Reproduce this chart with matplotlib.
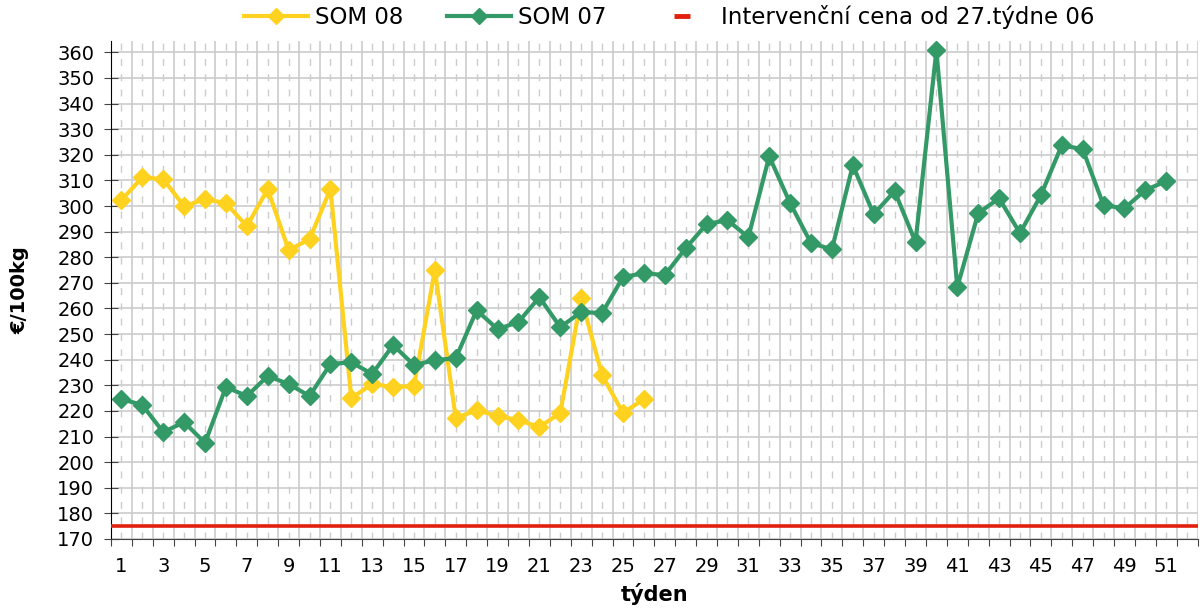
import numpy as np
import matplotlib
matplotlib.use('Agg')
import matplotlib.pyplot as plt
from matplotlib.lines import Line2D

plt.rcParams['font.family'] = ['DejaVu Sans']

weeks_08 = list(range(1, 27))
som_08 = [302.3, 311.2, 310.5, 299.9, 302.7, 301.1, 292.1, 306.6, 282.8, 287.0,
          306.6, 225.0, 230.5, 229.3, 229.7, 275.0, 217.2, 220.3, 218.0, 216.4,
          213.7, 219.2, 264.0, 234.0, 219.2, 224.6]

weeks_07 = list(range(1, 52))
som_07 = [224.6, 222.3, 211.7, 215.6, 207.5, 229.3, 225.8, 233.6, 230.5, 225.8,
          238.3, 239.0, 234.4, 245.7, 237.9, 239.8, 240.6, 259.3, 251.9, 254.7,
          264.4, 252.7, 258.6, 258.2, 272.2, 273.8, 273.0, 283.5, 292.9, 294.5,
          287.8, 319.4, 301.1, 285.5, 283.1, 315.9, 296.8, 305.8, 285.9, 360.8,
          268.3, 297.2, 303.0, 289.4, 304.2, 323.7, 322.2, 300.3, 299.1, 306.2,
          309.7]

intervention = 175
all_weeks = list(range(1, 53))
x_labels = [str(w) if w % 2 == 1 else '' for w in all_weeks]
y_ticks = list(range(170, 361, 10))

yellow = '#FFD21F'
green = '#339966'
red = '#E2200E'

fig = plt.figure(figsize=(12, 6.09), dpi=100)
ax = fig.add_axes([0.0925, 0.115, 0.9055, 0.818])

ax.axhline(intervention, color=red, lw=2.6, zorder=3)
ax.plot(weeks_08, som_08, color=yellow, lw=3, marker='D', ms=9.5, zorder=4)
ax.plot(weeks_07, som_07, color=green, lw=3, marker='D', ms=9.5, zorder=5)

ax.set_xlim(0.5, 52.5)
ax.set_ylim(170, 364.5)

# category boundaries: solid grid + tick marks, centers: dashed grid + labels
ax.set_xticks(np.arange(0.5, 53, 1))
ax.set_xticklabels([])
ax.set_xticks(all_weeks, minor=True)
ax.set_xticklabels(x_labels, minor=True, fontsize=14)
ax.tick_params(axis='x', which='major', direction='out', length=5, color='#444444')
ax.tick_params(axis='x', which='minor', length=0, pad=13)
ax.set_yticks(y_ticks)
ax.tick_params(axis='y', direction='inout', length=10, labelsize=14, color='#444444', pad=7)

ax.grid(which='major', axis='both', color='#cccccc', lw=1.2)
ax.grid(which='minor', axis='x', color='#cccccc', lw=1, ls=(0, (5, 6)))
ax.set_axisbelow(True)

for s in ['top', 'right']:
    ax.spines[s].set_visible(False)
ax.spines['left'].set_color('black')
ax.spines['bottom'].set_color('#444444')

ax.set_ylabel('€/100kg', fontsize=14, fontweight='bold', labelpad=20)
ax.set_xlabel('týden', fontsize=15, fontweight='bold', labelpad=5)

handles = [
    Line2D([], [], color=yellow, lw=3, marker='D', ms=8),
    Line2D([], [], color=green, lw=3, marker='D', ms=8),
    Line2D([], [], color=red, lw=0, marker='_', ms=11, mew=3.5),
]
fig.legend(handles, ['SOM 08', 'SOM 07', 'Intervenční cena od 27.týdne 06'],
           loc='center', bbox_to_anchor=(0.558, 0.972), ncol=3, frameon=False,
           fontsize=16.5, handlelength=2.8, columnspacing=1.9, handletextpad=0.3)

fig.savefig('out.png', dpi=100)
